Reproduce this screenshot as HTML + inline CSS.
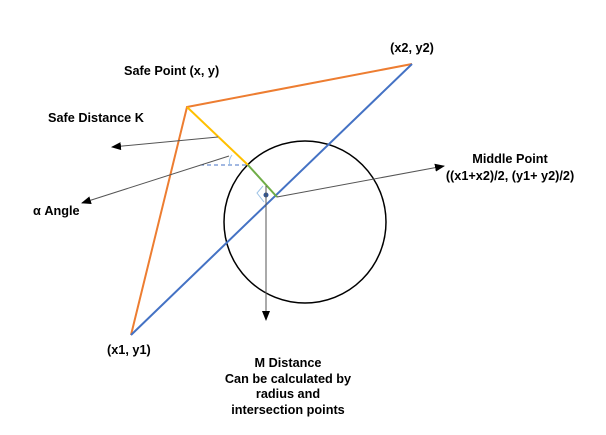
<!DOCTYPE html>
<html><head><style>
body{margin:0;background:#fff;}
svg{display:block;}
text{font-family:"Liberation Sans",Arial,sans-serif;font-weight:bold;font-size:12.7px;fill:#000;}
</style></head><body>
<svg width="606" height="435" viewBox="0 0 606 435">
<defs><marker id="a" markerWidth="10" markerHeight="8" refX="9" refY="4" orient="auto" markerUnits="userSpaceOnUse"><path d="M0,0 L10,4 L0,8 z" fill="#000"/></marker></defs>
<circle cx="305" cy="222" r="81" fill="none" stroke="#000" stroke-width="1.5"/>
<polyline points="131,335 187,107 412,64" fill="none" stroke="#ED7D31" stroke-width="2"/>
<line x1="131" y1="335" x2="412" y2="64" stroke="#4472C4" stroke-width="2"/>
<line x1="187" y1="107" x2="248" y2="165" stroke="#FFC000" stroke-width="2"/>
<line x1="248" y1="165" x2="277" y2="197" stroke="#70AD47" stroke-width="2"/>
<line x1="200" y1="165" x2="248" y2="165" stroke="#4472C4" stroke-width="1" stroke-dasharray="4,3"/>
<path d="M232,155 Q228,160 230,165" fill="none" stroke="#9DC3E6" stroke-width="1"/>
<path d="M263,186 L257,193 L264,202" fill="none" stroke="#9DC3E6" stroke-width="1"/>
<circle cx="266" cy="195" r="2.5" fill="#2F5597"/>
<line x1="218" y1="137" x2="112" y2="147" stroke="#555" stroke-width="1" marker-end="url(#a)"/>
<line x1="229" y1="156" x2="82" y2="203" stroke="#555" stroke-width="1" marker-end="url(#a)"/>
<line x1="277" y1="197" x2="444" y2="166" stroke="#555" stroke-width="1" marker-end="url(#a)"/>
<line x1="266" y1="186" x2="266" y2="320" stroke="#555" stroke-width="1" marker-end="url(#a)"/>
<text x="412" y="52" text-anchor="middle">(x2, y2)</text>
<text x="124" y="75">Safe Point (x, y)</text>
<text x="48" y="122">Safe Distance K</text>
<text x="33" y="215">α Angle</text>
<text x="510" y="163" text-anchor="middle">Middle Point</text>
<text x="510" y="180" text-anchor="middle">((x1+x2)/2, (y1+ y2)/2)</text>
<text x="107" y="354">(x1, y1)</text>
<text x="288" y="367" text-anchor="middle">M Distance</text>
<text x="288" y="383" text-anchor="middle">Can be calculated by</text>
<text x="288" y="398" text-anchor="middle">radius and</text>
<text x="288" y="414" text-anchor="middle">intersection points</text>
</svg>
</body></html>
